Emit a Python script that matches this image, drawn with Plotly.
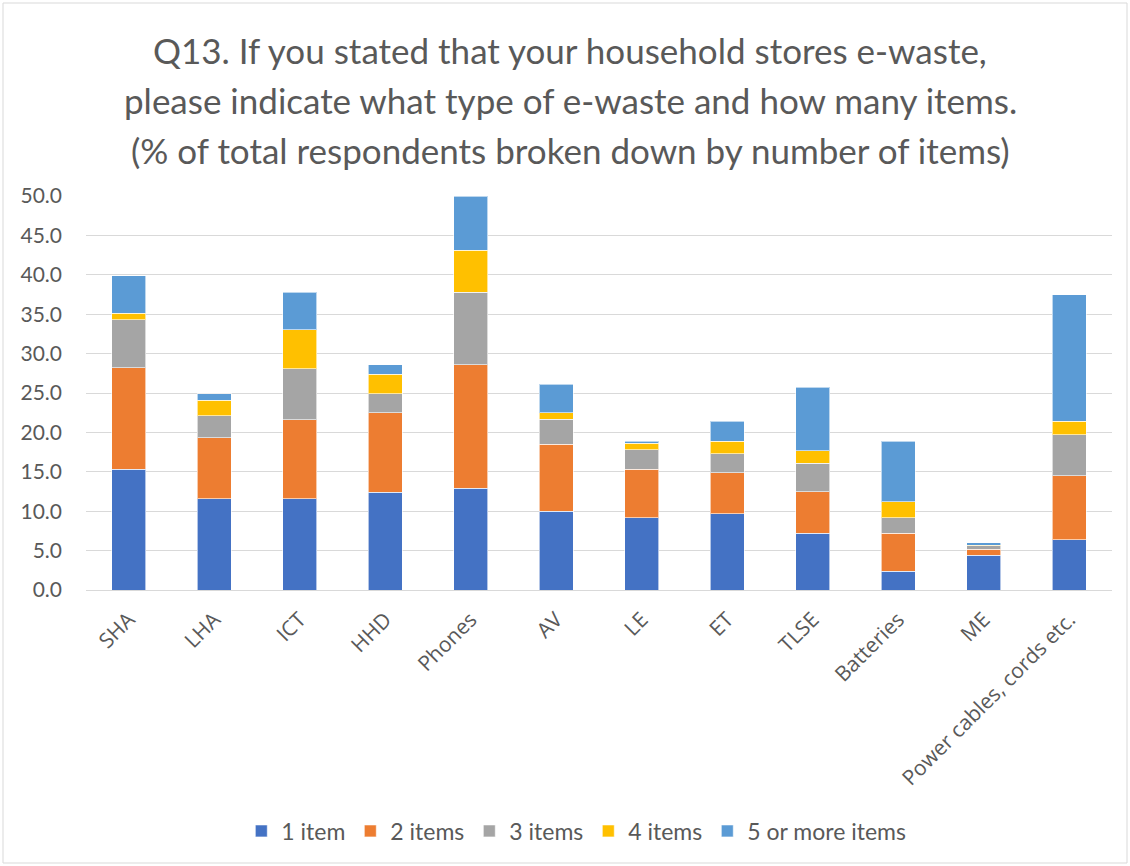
import plotly.graph_objects as go

# Storage of household e-waste by category, % of total respondents
categories = ["SHA", "LHA", "ICT", "HHD", "Phones", "AV", "LE", "ET",
              "TLSE", "Batteries", "ME", "Power cables, cords etc."]

one_item = [15.3, 11.6, 11.6, 12.4, 12.9, 10.0, 9.2, 9.7, 7.2, 2.4, 4.4, 6.4]
two_items = [12.9, 7.7, 10.0, 10.1, 15.7, 8.5, 6.1, 5.2, 5.3, 4.8, 0.8, 8.1]
three_items = [6.1, 2.8, 6.5, 2.4, 9.2, 3.2, 2.5, 2.4, 3.6, 2.0, 0.4, 5.2]
four_items = [0.8, 2.0, 4.9, 2.5, 5.3, 0.8, 0.8, 1.6, 1.6, 2.0, 0.1, 1.7]
five_plus_items = [4.8, 0.8, 4.8, 1.2, 6.9, 3.6, 0.3, 2.5, 8.0, 7.7, 0.3, 16.1]

y_ticks = [0, 5, 10, 15, 20, 25, 30, 35, 40, 45, 50]

series = [
    ("1 item", one_item, "#4472C4"),
    ("2 items", two_items, "#ED7D31"),
    ("3 items", three_items, "#A5A5A5"),
    ("4 items", four_items, "#FFC000"),
    ("5 or more items", five_plus_items, "#5B9BD5"),
]

TEXT = "#595959"
TITLE_FONT = "Lato, sans-serif"
LABEL_FONT = "'Open Sans', 'Noto Sans', sans-serif"

fig = go.Figure()
for name, values, color in series:
    fig.add_trace(go.Bar(
        name=name, x=categories, y=values,
        marker=dict(color=color, line=dict(color="rgba(255,255,255,0.6)", width=1)),
    ))

W, H = 1130, 866
ML, MR, MT, MB = 86, 18, 196, 276

fig.update_layout(
    width=W, height=H,
    barmode="stack", bargap=0.6,
    paper_bgcolor="white", plot_bgcolor="white",
    margin=dict(l=ML, r=MR, t=MT, b=MB, autoexpand=False),
    font=dict(family=TITLE_FONT, color=TEXT),
    showlegend=True,
    legend=dict(
        orientation="h", xref="container", yref="container",
        x=0.51, xanchor="center", y=1 - 831 / H, yanchor="middle",
        font=dict(size=23, family=TITLE_FONT, color=TEXT),
        itemwidth=30, traceorder="normal",
    ),
)

fig.update_yaxes(
    range=[0, 50], tickvals=y_ticks,
    ticktext=[f"{v:.1f}" for v in y_ticks],
    showgrid=True, gridcolor="#D9D9D9", gridwidth=1,
    zeroline=False, showline=False, ticks="",
    tickfont=dict(size=21, family=TITLE_FONT, color=TEXT),
    ticklabelstandoff=23,
)
fig.update_xaxes(
    showline=True, linecolor="#D9D9D9", linewidth=1,
    ticks="", tickangle=-45,
    tickfont=dict(size=21, family=LABEL_FONT, color=TEXT),
    ticklabelstandoff=8,
)

# Three-line chart title
title_lines = [
    "Q13. If you stated that your household stores e-waste,",
    "please indicate what type of e-waste and how many items.",
    "(% of total respondents broken down by number of items)",
]
for i, line in enumerate(title_lines):
    fig.add_annotation(
        text=line, xref="paper", yref="paper",
        x=(570 - ML) / (W - ML - MR), xanchor="center",
        y=1 + (MT - (50 + 50 * i)) / (H - MT - MB), yanchor="middle",
        showarrow=False,
        font=dict(size=35, family=TITLE_FONT, color=TEXT),
    )

# Chart border
pw, ph = W - ML - MR, H - MT - MB
fig.add_shape(
    type="rect", xref="paper", yref="paper",
    x0=(3 - ML) / pw, x1=(W - 3 - ML) / pw,
    y0=-(H - 3 - MT - ph) / ph, y1=1 + (MT - 3) / ph,
    line=dict(color="#D9D9D9", width=1), layer="below",
)

fig.write_html("out.html")
